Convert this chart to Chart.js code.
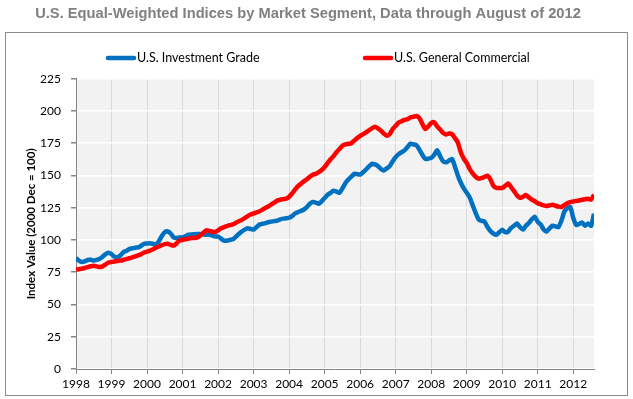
<!DOCTYPE html>
<html>
<head>
<meta charset="utf-8">
<script src="https://cdn.jsdelivr.net/npm/chart.js@4.4.1/dist/chart.umd.min.js"></script>
<style>
html,body{margin:0;padding:0;background:#fff;}
#wrap{width:633px;height:399px;position:relative;}
</style>
</head>
<body>
<div id="wrap"><canvas id="c" width="633" height="399"></canvas></div>
<script>
const startYear = 1998;
const yearTicks = [1998,1999,2000,2001,2002,2003,2004,2005,2006,2007,2008,2009,2010,2011,2012];
const seriesNames = ['U.S. Investment Grade', 'U.S. General Commercial'];

// Monthly index values, Jan 1998 - Aug 2012
const investmentGrade = [
  86, 84, 83, 83.5, 84.5, 84.6, 84, 84.5, 85.4, 87, 89, 90,
  89, 87, 86.7, 88, 90.5, 91.5, 93, 93.5, 94, 94.2, 95.5, 97,
  97.2, 97.4, 97, 96.4, 99, 103, 106, 106.6, 105, 102, 101.5, 102,
  102, 103, 104, 104.3, 104.5, 104.6, 104.6, 104.3, 104, 104, 103.5, 102.6,
  102.6, 101, 99.5, 99.4, 100, 100.5, 102.5, 104.6, 106.5, 108, 109, 108.5,
  108, 110, 112, 112.5, 113, 113.8, 114.2, 114.6, 115, 116, 116.5, 116.8,
  117.2, 118.5, 120.5, 121.6, 122.5, 123.6, 125.5, 128, 129.5, 129, 128, 130,
  132.5, 135, 136.5, 138.2, 137.5, 136.5, 140, 144, 146.8, 149, 151.2, 151,
  150.7, 152.5, 154.6, 157, 159, 158.5, 157.2, 155, 153.9, 155.5, 157.2, 161,
  164.2, 166.5, 168, 169.4, 172, 174.6, 174, 173.5, 170, 166, 162.8, 163,
  163.6, 166, 169.5, 165, 161, 160.2, 161.5, 162.8, 157, 150, 144.3, 140,
  136.6, 133, 127, 121, 116, 114.8, 114.3, 110, 107, 105, 104, 106,
  108, 106, 106.5, 109.3, 111, 112.7, 110, 108, 111, 113.2, 116, 118,
  114, 112, 108, 106.6, 109, 111, 110.5, 110, 115, 122, 124.6, 125.4,
  117, 111.6, 112.5, 113.5, 111, 112.7, 111, 120.3
];
const generalCommercial = [
  77, 77.3, 77.8, 78.3, 79, 79.6, 80, 79.5, 79, 79.5, 81, 82.5,
  83, 83.3, 83.7, 84, 84.5, 85.2, 85.8, 86.5, 87.2, 88, 89, 90.3,
  91, 91.8, 92.8, 94, 95, 96, 96.8, 97, 96.2, 95.6, 97.5, 99.5,
  100, 100.5, 101, 101.5, 101.5, 102, 103.5, 105.5, 107.5, 107, 106.5, 106,
  107.5, 109, 110, 110.8, 111.5, 112, 113.3, 114.5, 115.5, 117, 118.5, 119.7,
  120.5, 121.3, 122.3, 123.5, 124.8, 126, 127.5, 129, 130.5, 131.2, 131.6, 132,
  133.5, 136, 139, 141.7, 143.5, 145.5, 147, 149, 150.5, 151.2, 152.5, 154.2,
  156.5, 159.5, 162.5, 165, 168, 170.5, 173, 174, 174.5, 175, 177, 179,
  180.7, 182, 183.4, 185, 186.5, 187.8, 186.5, 184.7, 182.5, 180.7, 182, 186,
  188.5, 191, 192, 193, 193.6, 195, 195.5, 196, 194.5, 190, 186, 188,
  190.5, 191.2, 188, 185.6, 183, 181.7, 182.5, 182, 179, 175.5, 168, 163,
  159.7, 155, 151.5, 149, 147.5, 148, 148.8, 149.8, 147, 142, 140.3, 140.3,
  140.3, 142, 143.8, 141, 137.8, 134.5, 132.6, 133.5, 134.8, 133, 131.2, 130,
  128.5, 127.6, 126.8, 126.3, 126.8, 127.3, 126.5, 125.8, 125.5, 127, 128.5, 129.3,
  129.8, 130.3, 130.6, 131.2, 131.6, 131.9, 131.3, 135
];
const yTicks = [0,25,50,75,100,125,150,175,200,225];

const toPoints = arr => arr.map((v, i) => ({x: startYear + i / 12, y: v}));

const bgPlugin = {
  id: 'bg',
  beforeDraw(chart) {
    const {ctx, chartArea: a} = chart;
    ctx.save();
    ctx.fillStyle = '#ffffff';
    ctx.fillRect(0, 0, chart.width, chart.height);
    ctx.fillStyle = '#f2f2f2';
    ctx.fillRect(a.left, a.top, a.right - a.left, a.bottom - a.top);
    ctx.restore();
  },
  afterDraw(chart) {
    const {ctx} = chart;
    ctx.save();
    // outer frame
    ctx.strokeStyle = '#8c8c8c';
    ctx.lineWidth = 1;
    ctx.strokeRect(5.5, 32.5, 622, 363);
    // legend
    const xs = [108, 365];
    const y = 58;
    chart.data.datasets.forEach((ds, i) => {
      ctx.strokeStyle = ds.borderColor;
      ctx.lineWidth = 4.5;
      ctx.lineCap = 'round';
      ctx.beginPath();
      ctx.moveTo(xs[i], y);
      ctx.lineTo(xs[i] + 26, y);
      ctx.stroke();
      ctx.fillStyle = '#000';
      ctx.font = '12.5px Lato';
      ctx.textBaseline = 'middle';
      ctx.textAlign = 'left';
      ctx.fillText(ds.label, xs[i] + 29, y);
    });
    ctx.restore();
  }
};

new Chart(document.getElementById('c'), {
  type: 'line',
  data: {
    datasets: [
      {label: seriesNames[0], data: toPoints(investmentGrade), borderColor: '#0070c0', borderWidth: 4.5, pointRadius: 0, tension: 0.2, order: 1},
      {label: seriesNames[1], data: toPoints(generalCommercial), borderColor: '#ff0000', borderWidth: 4.5, pointRadius: 0, tension: 0.2, order: 0}
    ]
  },
  options: {
    responsive: false,
    devicePixelRatio: 1,
    animation: false,
    layout: {padding: {left: 0, right: 17, top: 0, bottom: 0}},
    plugins: {
      legend: {display: false},
      tooltip: {enabled: false},
      title: {
        display: true,
        text: 'U.S. Equal-Weighted Indices by Market Segment, Data through August of 2012',
        color: '#808080',
        font: {family: 'Liberation Sans', size: 14.7, weight: 'bold', lineHeight: 1.2},
        padding: {top: 5, bottom: 56}
      }
    },
    scales: {
      x: {
        type: 'linear',
        min: startYear,
        max: startYear + (investmentGrade.length - 1) / 12,
        afterFit(s) { s.height = 30; },
        afterBuildTicks(s) { s.ticks = yearTicks.map(v => ({value: v})); },
        ticks: {
          includeBounds: false,
          stepSize: 1,
          autoSkip: false,
          maxRotation: 0,
          padding: 3,
          color: '#000',
          font: {family: 'Lato', size: 12},
          callback: v => String(v)
        },
        grid: {color: '#d9d9d9', tickColor: '#868686', tickLength: 5, lineWidth: 1},
        border: {color: '#868686', width: 1}
      },
      y: {
        min: 0,
        max: 225,
        afterFit(s) { s.width = 76; },
        afterBuildTicks(s) { s.ticks = yTicks.map(v => ({value: v})); },
        ticks: {
          stepSize: 25,
          padding: 10,
          color: '#000',
          font: {family: 'Lato', size: 12}
        },
        grid: {color: '#ffffff', tickColor: '#868686', tickLength: 5, lineWidth: 1.5},
        border: {color: '#868686', width: 1},
        title: {
          display: true,
          text: 'Index Value (2000 Dec = 100)',
          color: '#000',
          font: {family: 'Lato', size: 11.5, weight: 'bold'},
          padding: {top: 24, bottom: 0}
        }
      },
      yRight: {
        position: 'right',
        display: true,
        min: 0,
        max: 225,
        afterFit(s) { s.width = 22; },
        grid: {display: false, drawOnChartArea: false},
        border: {display: false},
        ticks: {display: false}
      }
    }
  },
  plugins: [bgPlugin]
});
</script>
</body>
</html>
